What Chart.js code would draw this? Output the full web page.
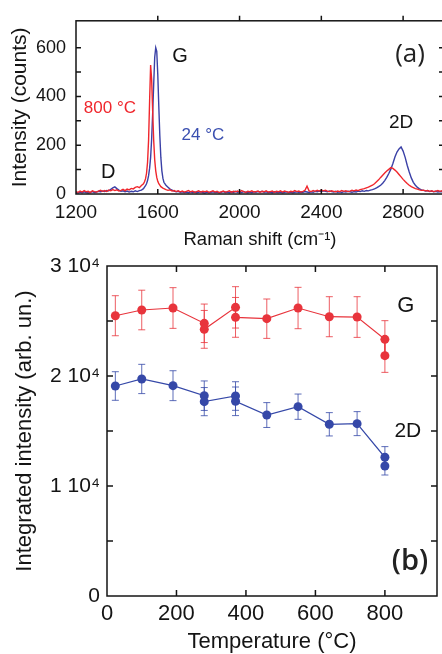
<!DOCTYPE html>
<html><head><meta charset="utf-8">
<script src="https://cdn.jsdelivr.net/npm/chart.js@4"></script>
<style>
html,body{margin:0;padding:0;background:#fff;overflow:hidden;width:442px;height:654px;}
canvas{position:absolute;left:0;}
#ca{top:0;}
#cb{top:246px;}
</style></head><body>
<canvas id="ca" width="460" height="252"></canvas>
<canvas id="cb" width="442" height="408"></canvas>
<script>
// ---------- Panel (a): Raman spectra ----------
const ramanShift = [
1200,1210,1220,1230,1240,1250,1260,1270,1280,1290,1300,1310,1320,1330,1340,1350,1360,1370,1380,1390,
1400,1410,1420,1430,1440,1450,1460,1470,1480,1490,1500,1510,1520,1530,
1535,1540,1545,1550,1555,1560,1565,1570,1575,1580,1585,1590,1595,1600,1605,1610,1615,1620,1625,
1630,1640,1650,1660,1670,1680,1690,1700,1710,1720,
1730,1740,1750,1760,1770,1780,1790,1800,1810,1820,
1830,1840,1850,1860,1870,1880,1890,1900,1910,1920,
1930,1940,1950,1960,1970,1980,1990,2000,2010,2020,
2030,2040,2050,2060,2070,2080,2090,2100,2110,2120,
2130,2140,2150,2160,2170,2180,2190,2200,2210,2220,
2230,2240,2250,2260,2270,2280,2290,2300,2310,2320,
2330,2340,2350,2360,2370,2380,2390,2400,2410,2420,
2430,2440,2450,2460,2470,2480,2490,2500,2510,2520,
2530,2540,2550,2560,2570,2580,2590,2600,2610,2620,
2630,2640,2650,2660,2670,2680,2690,2700,2710,2720,
2730,2740,2750,2760,2770,2780,2790,2800,2810,2820,
2830,2840,2850,2860,2870,2880,2890,2900,2910,2920,
2930,2940,2950,2960,2970,2980,2990,3000];

const intensity24 = [
6,4,8,5,9,6,4,7,10,6, 8,11,9,12,10,14,13,19,25,29,
22,16,11,13,9,12,8,11,9,13, 10,14,16,22,
28,34,42,55,75,105,150,225,330,450,560,600,585,490,360,240,150,95,65,
48,36,28,20,16,12,9,11,7,9,
6,8,5,9,6,8,5,7,9,6,
4,8,5,7,9,6,8,5,7,10,
6,8,5,9,6,11,7,9,6,10,
7,5,8,6,9,7,10,8,11,7,
9,6,8,5,9,7,6,8,5,7,
9,6,8,5,7,9,6,8,7,10,
8,6,9,7,11,9,12,10,13,11,
9,12,10,8,11,7,9,6,10,8,
11,9,7,10,8,12,10,13,11,14,
13,16,18,21,25,30,36,44,55,68,
84,102,125,152,172,185,193,176,150,118,
90,66,48,36,27,21,17,15,12,14,
10,12,9,11,8,10,9,11];

const intensity800 = [
10,7,12,8,14,9,11,6,13,10, 8,12,15,11,14,10,16,13,18,14,
17,12,15,19,14,20,17,23,21,27, 30,26,35,42,
50,62,85,130,220,380,529,470,340,220,140,95,68,52,42,36,30,27,24,
22,18,15,17,12,14,10,13,9,12,
8,11,14,9,12,7,10,13,8,11,
9,12,7,10,13,8,11,6,9,12,
8,10,13,7,11,9,12,8,14,10,
7,11,9,13,8,10,12,7,11,9,
13,8,10,12,7,11,9,13,8,12,
10,7,11,9,14,10,12,8,11,15,
32,13,10,14,11,15,12,16,13,15,
12,10,13,11,9,12,10,14,11,13,
10,12,15,13,16,14,18,20,22,25,
28,32,36,42,50,58,68,77,86,94,
101,108,105,98,90,80,70,60,51,43,
36,30,26,22,20,17,15,16,13,14,
11,13,10,12,14,11,13,10];

const ramanTicks = [1200,1600,2000,2400,2800];
const countTicks = [0,100,200,300,400,500,600];
const countLabels = [0,200,400,600];

// ---------- Panel (b): integrated intensity ----------
const temperature = [24,100,190,280,280,370,370,460,550,640,720,800,800];
const intensityG  = [25480,26000,26180,24790,24240,26240,25330,25210,26180,25390,25360,23330,21850];
const errorG      = [1820,1800,1850,1750,1720,1880,1810,1790,1880,1820,1850,1700,1520];
const intensity2D = [19090,19730,19120,18210,17670,18180,17700,16450,17210,15610,15670,12610,11820];
const error2D     = [1300,1330,1360,1340,1280,1300,1300,1130,1150,1060,1090,970,820];
const tempTicks = [0,200,400,600,800];
const integTicks = [0,5000,10000,15000,20000,25000,30000];
const integLabels = {0:'0',10000:'1 10\u2074',20000:'2 10\u2074',30000:'3 10\u2074'};

// ---------- styles ----------
const FONT = '"Liberation Sans", Arial, sans-serif';
const PANEL_FONT = '"Open Sans", "Noto Sans", sans-serif';
const RED = '#f0262c';
const BLUE = '#3a40a6';
const RED_B = '#e8343c';
const BLUE_B = '#3548a8';
const INK = '#141414';

const frameTicks = {
  id: 'frameTicks',
  afterDatasetsDraw(chart, args, o) {
    const {ctx, chartArea: a, scales: {x, y}} = chart;
    ctx.save();
    ctx.strokeStyle = INK;
    ctx.lineWidth = o.lw;
    ctx.strokeRect(a.left, a.top, a.right - a.left, a.bottom - a.top);
    ctx.beginPath();
    x.ticks.forEach(t => {
      const px = x.getPixelForValue(t.value);
      if (px <= a.left + 1 || px >= a.right - 1) return;
      ctx.moveTo(px, a.bottom); ctx.lineTo(px, a.bottom - o.len);
      ctx.moveTo(px, a.top); ctx.lineTo(px, a.top + o.topDir * o.len);
    });
    y.ticks.forEach(t => {
      const py = y.getPixelForValue(t.value);
      if (py <= a.top + 1 || py >= a.bottom - 1) return;
      ctx.moveTo(a.left, py); ctx.lineTo(a.left + o.len, py);
      ctx.moveTo(a.right, py); ctx.lineTo(a.right - o.len, py);
    });
    ctx.stroke();
    (o.notes || []).forEach(n => {
      ctx.font = (n.weight || '') + ' ' + n.size + 'px ' + (n.family || FONT);
      ctx.fillStyle = n.color || INK;
      ctx.textAlign = 'center';
      ctx.textBaseline = 'middle';
      ctx.fillText(n.text, x.getPixelForValue(n.x), y.getPixelForValue(n.y));
    });
    ctx.restore();
  }
};

function pts(xs, ys) { return xs.map((v, i) => ({x: v, y: ys[i]})); }
function errPts(xs, ys, es) {
  const out = [];
  xs.forEach((v, i) => { out.push({x: v, y: ys[i] - es[i]}, {x: v, y: ys[i] + es[i]}, {x: v, y: null}); });
  return out;
}

// ---------- Chart (a) ----------
new Chart(document.getElementById('ca'), {
  type: 'line',
  data: { datasets: [
    { label: '800 °C', data: pts(ramanShift, intensity800), borderColor: RED, borderWidth: 1.4, pointRadius: 0, tension: 0 },
    { label: '24 °C', data: pts(ramanShift, intensity24), borderColor: BLUE, borderWidth: 1.4, pointRadius: 0, tension: 0 }
  ]},
  options: {
    responsive: false, animation: false, events: [],
    layout: { padding: { top: 15, right: 16, bottom: 0, left: 0 } },
    plugins: {
      legend: { display: false }, tooltip: { enabled: false },
      frameTicks: { lw: 1.5, len: 5, topDir: -1, notes: [
        { text: 'G', x: 1709, y: 563, size: 20 },
        { text: '(a)', x: 2834, y: 571, size: 26, family: PANEL_FONT, color: '#222' },
        { text: '800 °C', x: 1366, y: 353, size: 17, color: RED },
        { text: '24 °C', x: 1821, y: 242, size: 17, color: '#3a4fb0' },
        { text: 'D', x: 1357, y: 87, size: 20 },
        { text: '2D', x: 2790, y: 290, size: 19 }
      ]}
    },
    scales: {
      x: { type: 'linear', min: 1200, max: 3000,
        afterBuildTicks: s => { s.ticks = ramanTicks.map(v => ({value: v})); },
        afterFit: s => { s.height = 58; },
        grid: { display: false, drawTicks: false }, border: { display: false },
        ticks: { color: INK, font: { family: FONT, size: 19 }, padding: 7, maxRotation: 0, autoSkip: false,
          callback: v => String(v) },
        title: { display: true, text: 'Raman shift (cm\u207B\u00B9)', color: INK, font: { family: FONT, size: 18.5 }, padding: { top: 0, bottom: 1 } }
      },
      y: { type: 'linear', min: 0, max: 710,
        afterBuildTicks: s => { s.ticks = countTicks.map(v => ({value: v})); },
        afterFit: s => { s.width = 76; },
        grid: { display: false, drawTicks: false }, border: { display: false },
        ticks: { color: INK, font: { family: FONT, size: 18 }, padding: 10, autoSkip: false,
          callback: v => countLabels.includes(v) ? String(v) : '' },
        title: { display: true, text: 'Intensity (counts)', color: INK, font: { family: FONT, size: 21 }, padding: { top: 8, bottom: 0 } }
      }
    }
  },
  plugins: [frameTicks]
});

// ---------- Chart (b) ----------
new Chart(document.getElementById('cb'), {
  type: 'line',
  data: { datasets: [
    { label: 'G', data: pts(temperature, intensityG), borderColor: RED_B, backgroundColor: RED_B, borderWidth: 1.2,
      pointRadius: 4.5, pointBackgroundColor: RED_B, pointBorderWidth: 0, tension: 0 },
    { label: '2D', data: pts(temperature, intensity2D), borderColor: BLUE_B, backgroundColor: BLUE_B, borderWidth: 1.2,
      pointRadius: 4.5, pointBackgroundColor: BLUE_B, pointBorderWidth: 0, tension: 0 },
    { label: 'G err', data: errPts(temperature, intensityG, errorG), borderColor: 'rgba(232,52,60,0.8)', borderWidth: 1,
      pointStyle: 'line', pointRadius: 3.5, pointBorderColor: 'rgba(232,52,60,0.8)', pointBorderWidth: 1, spanGaps: false },
    { label: '2D err', data: errPts(temperature, intensity2D, error2D), borderColor: 'rgba(53,72,168,0.8)', borderWidth: 1,
      pointStyle: 'line', pointRadius: 3.5, pointBorderColor: 'rgba(53,72,168,0.8)', pointBorderWidth: 1, spanGaps: false }
  ]},
  options: {
    responsive: false, animation: false, events: [],
    layout: { padding: { top: 20, right: 4, bottom: 0, left: 0 } },
    plugins: {
      legend: { display: false }, tooltip: { enabled: false },
      frameTicks: { lw: 1.5, len: 6, topDir: 1, notes: [
        { text: 'G', x: 860, y: 26360, size: 22 },
        { text: '2D', x: 866, y: 15000, size: 21 },
        { text: '(b)', x: 872, y: 3090, size: 29, family: PANEL_FONT, weight: '600', color: '#222' }
      ]}
    },
    scales: {
      x: { type: 'linear', min: 0, max: 950,
        afterBuildTicks: s => { s.ticks = tempTicks.map(v => ({value: v})); },
        afterFit: s => { s.height = 58; },
        grid: { display: false, drawTicks: false }, border: { display: false },
        ticks: { color: INK, font: { family: FONT, size: 22 }, padding: 5, maxRotation: 0, autoSkip: false,
          callback: v => String(v) },
        title: { display: true, text: 'Temperature (°C)', color: INK, font: { family: FONT, size: 22, lineHeight: 1.1 }, padding: { top: 0, bottom: 0 } }
      },
      y: { type: 'linear', min: 0, max: 30000,
        afterBuildTicks: s => { s.ticks = integTicks.map(v => ({value: v})); },
        afterFit: s => { s.width = 107; },
        grid: { display: false, drawTicks: false }, border: { display: false },
        ticks: { color: INK, font: { family: FONT, size: 21 }, padding: 7, autoSkip: false,
          callback: v => (v in integLabels) ? integLabels[v] : '' },
        title: { display: true, text: 'Integrated intensity (arb. un.)', color: INK, font: { family: FONT, size: 22 }, padding: { top: 12, bottom: 0 } }
      }
    }
  },
  plugins: [frameTicks]
});
</script>
</body></html>
